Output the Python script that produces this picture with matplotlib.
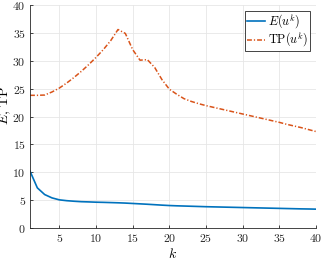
import numpy as np
import matplotlib
matplotlib.use("Agg")
import matplotlib.pyplot as plt

plt.rcParams['font.family'] = ['cmr10', 'DejaVu Serif']
plt.rcParams['mathtext.fontset'] = 'cm'
plt.rcParams['axes.formatter.use_mathtext'] = True

# iterations
k = np.arange(1, 41)

# energy E(u^k)
energy = [10.2, 7.2, 6.0, 5.4, 5.05, 4.9, 4.8, 4.72, 4.68, 4.63,
          4.6, 4.56, 4.52, 4.47, 4.4, 4.33, 4.26, 4.18, 4.1, 4.03,
          3.98, 3.94, 3.9, 3.86, 3.82, 3.79, 3.76, 3.73, 3.7, 3.67,
          3.64, 3.61, 3.58, 3.55, 3.52, 3.49, 3.46, 3.43, 3.41, 3.38]

# TP(u^k)
tp = [23.8, 23.8, 23.85, 24.4, 25.1, 26.0, 27.0, 28.1, 29.3, 30.6,
      32.0, 33.6, 35.6, 34.9, 32.0, 30.1, 30.2, 28.8, 26.6, 24.9,
      24.0, 23.2, 22.7, 22.3, 21.95, 21.65, 21.35, 21.05, 20.75, 20.45,
      20.15, 19.85, 19.55, 19.25, 18.95, 18.6, 18.3, 18.0, 17.65, 17.3]

xticks = [5, 10, 15, 20, 25, 30, 35, 40]
yticks = [0, 5, 10, 15, 20, 25, 30, 35, 40]

fig = plt.figure(figsize=(3.22, 2.58), dpi=100)
ax = fig.add_axes([30/322, 30/258, 286/322, 223/258])

ax.plot(k, energy, color='#0072BD', lw=1.2, label=r'$E(u^k)$')
tp_line, = ax.plot(k, tp, color='#D95319', lw=1.1, label=r'$\mathrm{TP}(u^k)$')
tp_line.set_dashes([3.2, 1.3, 0.8, 1.3])

ax.set_xlim(1, 40)
ax.set_ylim(0, 40)
ax.set_xticks(xticks)
ax.set_yticks(yticks)
ax.grid(True, color='#e6e6e6', lw=0.6)
ax.set_axisbelow(True)
for s in ['top', 'right']:
    ax.spines[s].set_visible(False)
for s in ['left', 'bottom']:
    ax.spines[s].set_color('#262626')
    ax.spines[s].set_linewidth(0.6)
ax.tick_params(direction='in', length=2.5, width=0.6, labelsize=8.5,
               colors='#262626', pad=3)

ax.set_xlabel(r'$k$', fontsize=10)
ax.set_ylabel(r'$E$, TP', fontsize=10)
ax.xaxis.set_label_coords(0.5, -0.085)
ax.yaxis.set_label_coords(-0.058, 0.55)

leg = ax.legend(loc='upper right', fontsize=8.8, handlelength=1.5,
                handletextpad=0.25, borderpad=0.12, labelspacing=0.0,
                fancybox=False, framealpha=1, borderaxespad=0.5)
leg.get_frame().set_edgecolor('#262626')
leg.get_frame().set_linewidth(0.6)

fig.savefig('out.png', dpi=100)
